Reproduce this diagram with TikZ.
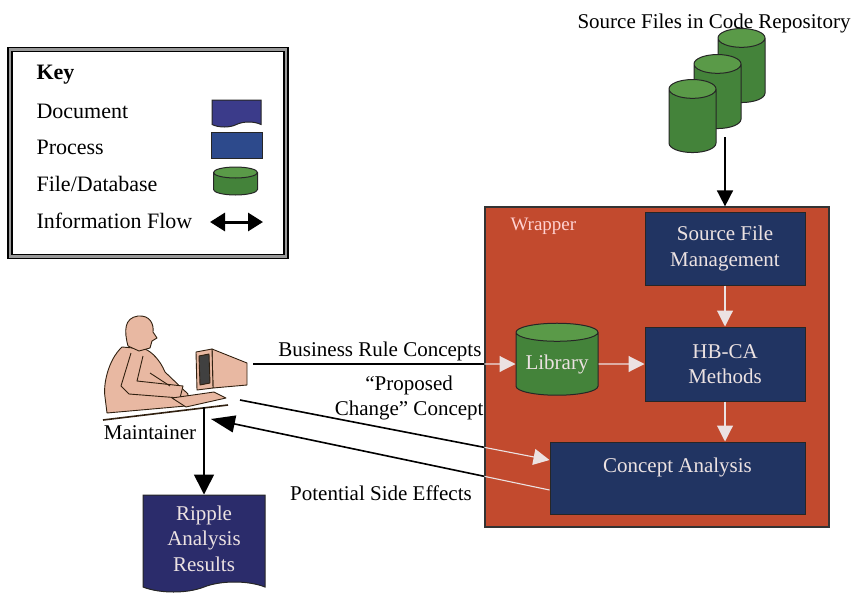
\documentclass[tikz,border=0pt]{standalone}
\usepackage{fontspec}
\setmainfont{Liberation Serif}
\usetikzlibrary{shapes.geometric,shapes.symbols,arrows.meta,positioning}

\definecolor{wrapred}{HTML}{C24A2E}
\definecolor{procblue}{HTML}{213462}
\definecolor{docblue}{HTML}{2B2C6B}
\definecolor{keydoc}{HTML}{3B3B8A}
\definecolor{keyproc}{HTML}{2D4A8C}
\definecolor{dbgreen}{HTML}{44833A}
\definecolor{dbtop}{HTML}{5A9A48}
\definecolor{skin}{HTML}{E8B8A2}
\definecolor{pale}{HTML}{ECE2E2}

\begin{document}
\begin{tikzpicture}[x=1pt,y=-1pt,
  txt/.style={font=\fontsize{21}{25.5}\selectfont},
  keytxt/.style={font=\fontsize{22}{26}\selectfont,anchor=base west},
  proc/.style={txt,draw=black!85,fill=procblue,text=pale,align=center,inner sep=0,line width=1pt},
  doc/.style={txt,tape,tape bend top=none,draw=black!85,fill=docblue,text=pale,align=center,inner sep=0,line width=1pt},
  db/.style={cylinder,shape border rotate=90,aspect=0.3,draw=black!85,line width=1pt,
    cylinder uses custom fill,cylinder body fill=dbgreen,cylinder end fill=dbtop,inner sep=0,align=center},
  flow/.style={-{Triangle[length=16pt,width=16pt]},line width=1.6pt},
  inflow/.style={-{Triangle[length=16pt,width=16pt]},pale,line width=1.1pt},
  figline/.style={draw=black!75!brown,line width=0.9pt,line join=round}]

\useasboundingbox (0,0) rectangle (862,597);

% key
\node[draw,double=black!40,double distance=2.2pt,line width=1.8pt,
  minimum width=276,minimum height=207] (key) at (148,153) {};
\node[keytxt,font=\fontsize{22}{26}\selectfont\bfseries] (k0) at (33,79) {Key};
\node[keytxt] (k1) at (33,118) {Document};
\node[keytxt] (k2) at (33,154) {Process};
\node[keytxt] (k3) at (33,191) {File/Database};
\node[keytxt] (k4) at (33,228) {Information Flow};
\node[doc,fill=keydoc,tape bend height=5,minimum width=49,minimum height=27] (kdoc) at (236.5,111) {};
\node[proc,fill=keyproc,minimum width=51,minimum height=26] (kproc) at (236.5,145) {};
\node[db,aspect=0.25,text width=44pt,minimum height=28] (kdb) at (235.5,184) {};
\coordinate (ka) at (210,222);
\coordinate (kb) at (263,222);
\draw[{Triangle[length=15pt,width=18pt]}-{Triangle[length=15pt,width=18pt]},line width=3pt] (ka) -- (kb);

% source files
\node[txt,anchor=base] (srctitle) at (714,28) {Source Files in Code Repository};
\node[db,aspect=0.4,text width=47pt,minimum height=74] (f3) at (741.5,70.5) {};
\node[db,aspect=0.4,text width=47pt,minimum height=74] (f2) at (717.5,96.5) {};
\node[db,aspect=0.4,text width=47pt,minimum height=73] (f1) at (692.5,121) {};

% wrapper and what runs inside it
\node[draw=black!80,fill=wrapred,line width=1.2pt,minimum width=344,minimum height=320] (wrap) at (657,367) {};
\node[txt,font=\fontsize{19}{22}\selectfont,text=pink!70!white,anchor=base west] (wrlabel) at (507,230) {Wrapper};
\node[proc,minimum width=160,minimum height=73] (sfm) at (725,248.5) {Source File\\Management};
\node[proc,minimum width=160,minimum height=74] (hbca) at (725,364) {HB-CA\\Methods};
\node[proc,minimum width=255,minimum height=72,text height=15pt,text depth=27pt] (ca) at (677.5,478) {Concept Analysis};
\node[db,txt,aspect=0.22,text=pale,text width=82pt,minimum height=72] (lib) at (557,364) {Library};

\draw[flow] ([yshift=-8pt]f2.south -| sfm.north) -- (sfm.north |- wrap.north);
\draw[inflow] (sfm.south) -- (hbca.north);
\draw[inflow] (hbca.south) -- (ca.north -| hbca.south);
\draw[inflow] (lib.east) -- (hbca.west);

% maintainer at his desk
\path[figline,fill=skin] (122,347) .. controls (108,360) and (103,385) .. (105,397)
  -- (107,413) -- (186,406) -- (188,394) -- (165,372) .. controls (160,360) and (152,352) .. (145,349) -- cycle;
\path[figline,fill=skin] (128,346) .. controls (124,331) and (124,318) .. (138,316)
  .. controls (150,315) and (154,324) .. (153,332) -- (157,338) -- (152,341) -- (150,348) -- (139,351) -- cycle;
\path[figline,fill=skin] (131,353) -- (121,386) -- (129,394) -- (180,398) -- (183,386) -- (137,381) -- (143,356);
\draw[figline] (150,373) -- (170,386);
\path[figline,fill=skin] (212,349) -- (247,363) -- (247,385) -- (213,388) -- cycle;
\path[figline,fill=skin] (196,352) -- (212,349) -- (213,388) -- (197,390) -- cycle;
\path[figline,fill=black!75] (199,356) -- (209,354) -- (210,383) -- (200,385) -- cycle;
\path[figline,fill=skin] (172,398) -- (214,392) -- (226,398) -- (186,407) -- cycle;
\draw[figline,line width=1.6pt] (103,420) -- (228,405);
\node[txt,anchor=base] (maint) at (150,439) {Maintainer};
\coordinate (pc-bus) at (253,364);
\coordinate (pc-prop) at (240,400);
\coordinate (maint-in) at (211,419);
\coordinate (maint-out) at (204,407);

\node[doc,tape bend height=10,minimum width=122,minimum height=97] (ripple) at (204,538.5) {Ripple\\Analysis\\Results};
\draw[flow,-{Triangle[length=20pt,width=20pt]}] (maint-out) -- (ripple.north);

% flows between the maintainer and the wrapper
\coordinate (ca-in) at ([yshift=18pt]ca.west);
\coordinate (ca-out) at ([yshift=-12pt]ca.west);
\draw[inflow] (pc-bus) -- (lib.west);
\draw[inflow] (pc-prop) -- (ca-in);
\draw[pale,line width=1.1pt] (ca-out) -- (maint-in);
\begin{scope}
  \clip (0,0) rectangle (wrap.south west);
  \draw[line width=1.6pt] (pc-bus) -- (lib.west);
  \draw[line width=1.6pt] (pc-prop) -- (ca-in);
  \draw[flow,-{Triangle[length=24pt,width=17pt]}] (ca-out) -- (maint-in);
\end{scope}
\node[txt,anchor=base east] (buslbl) at (485,356) {Business Rule Concepts};
\node[txt,align=center,anchor=east] (proplbl) at (487,398) {“Proposed\\Change” Concept};
\node[txt] (sidelbl) at (381,493) {Potential Side Effects};
\end{tikzpicture}
\end{document}
